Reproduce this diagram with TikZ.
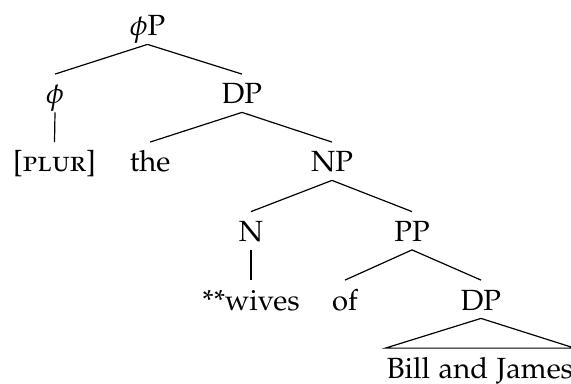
\documentclass[tikz,border=0pt]{standalone}
\usepackage[T1]{fontenc}
\usepackage[sc]{mathpazo}
\begin{document}
\begin{tikzpicture}[x=0.5pt,y=-0.5pt,
  lbl/.style={anchor=base,inner sep=0pt,text height=14.75pt,text depth=4pt,
    font=\fontsize{14.6}{17}\selectfont},
  branch/.style={line width=0.6pt}]
\useasboundingbox (0,0) rectangle (571,384);
% labels, placed on their baselines
\node[lbl] (phiP)  at (147.5,36)  {$\phi$P};
\node[lbl] (phi)   at (55,104)    {$\phi$};
\node[lbl] (DPa)   at (242,104)   {DP};
\node[lbl] (plur)  at (54.5,172)  {[\textsc{plur}]};
\node[lbl] (the)   at (150,172)   {the};
\node[lbl] (NP)    at (332,172)   {NP};
\node[lbl] (N)     at (251,241.5) {N};
\node[lbl] (PP)    at (412,241.5) {PP};
\node[lbl] (wives) at (251,310)   {**wives};
\node[lbl] (of)    at (345,310)   {of};
\node[lbl] (DPb)   at (481,310)   {DP};
\node[lbl,inner xsep=0.5pt] (bj) at (480,378) {Bill and James};
% branches
\draw[branch] (phiP.south) -- (phi.north);
\draw[branch] (phiP.south) -- (DPa.north);
\draw[branch] (phi.south)  -- (plur.north);
\draw[branch] (DPa.south)  -- (the.north);
\draw[branch] (DPa.south)  -- (NP.north);
\draw[branch] (NP.south)   -- (N.north);
\draw[branch] (NP.south)   -- (PP.north);
\draw[branch] (N.south)    -- (wives.north);
\draw[branch] (PP.south)   -- (of.north);
\draw[branch] (PP.south)   -- (DPb.north);
\draw[branch] (DPb.south)  -- (bj.north west) -- (bj.north east) -- cycle;
\end{tikzpicture}
\end{document}
